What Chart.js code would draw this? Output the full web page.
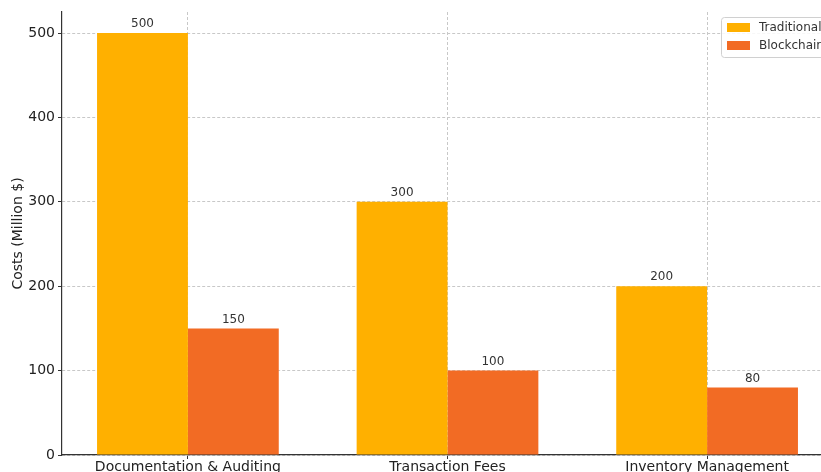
<!DOCTYPE html>
<html>
<head>
<meta charset="utf-8">
<script src="https://cdn.jsdelivr.net/npm/chart.js@4"></script>
<style>
    html, body { margin: 0; padding: 0; background: #fff; overflow: hidden; }
    body { width: 821px; height: 472px; }
    #wrap { width: 870px; height: 485px; position: relative; }
</style>
</head>
<body>
<div id="wrap"><canvas id="costChart" width="870" height="485"></canvas></div>
<script>
// Chart data
const categories = ['Documentation & Auditing', 'Transaction Fees', 'Inventory Management'];
const traditionalCosts = [500, 300, 200];
const blockchainCosts = [150, 100, 80];
const yTicks = [0, 100, 200, 300, 400, 500];

const FONT = "'DejaVu Sans', sans-serif";

// numeric x positions so the axis margins match the original plot
const toPoints = values => values.map((v, i) => ({ x: i, y: v }));

// values above each bar
const valueLabels = {
    id: 'valueLabels',
    afterDatasetsDraw(chart) {
        const ctx = chart.ctx;
        ctx.save();
        ctx.font = '12px ' + FONT;
        ctx.fillStyle = '#333';
        ctx.textAlign = 'center';
        ctx.textBaseline = 'bottom';
        chart.data.datasets.forEach((ds, i) => {
            chart.getDatasetMeta(i).data.forEach((bar, j) => {
                ctx.fillText(ds.data[j].y, bar.x, bar.y - 3);
            });
        });
        ctx.restore();
    }
};

// legend box inside the plot, upper right
const innerLegend = {
    id: 'innerLegend',
    afterDraw(chart) {
        const ctx = chart.ctx;
        const x = 721, y = 17, w = 130, h = 40;
        ctx.save();
        ctx.fillStyle = 'rgba(255,255,255,0.85)';
        ctx.strokeStyle = '#d0d0d0';
        ctx.lineWidth = 1;
        ctx.beginPath();
        ctx.roundRect(x + 0.5, y + 0.5, w, h, 3);
        ctx.fill();
        ctx.stroke();
        ctx.font = '12px ' + FONT;
        ctx.textBaseline = 'middle';
        ctx.textAlign = 'left';
        chart.data.datasets.forEach((ds, i) => {
            const cy = y + 10 + i * 18;
            ctx.fillStyle = ds.backgroundColor;
            ctx.fillRect(x + 6, cy - 4, 23, 9);
            ctx.fillStyle = '#333';
            ctx.fillText(ds.label, x + 38, cy + 1);
        });
        ctx.restore();
    }
};

const ctx = document.getElementById('costChart').getContext('2d');
const chart = new Chart(ctx, {
    type: 'bar',
    data: {
        datasets: [
            {
                label: 'Traditional',
                data: toPoints(traditionalCosts),
                backgroundColor: '#FFB000',
                categoryPercentage: 0.7,
                barPercentage: 1.0
            },
            {
                label: 'Blockchain',
                data: toPoints(blockchainCosts),
                backgroundColor: '#F26B24',
                categoryPercentage: 0.7,
                barPercentage: 1.0
            }
        ]
    },
    options: {
        responsive: false,
        animation: false,
        layout: {
            padding: { top: 12, right: 37, left: 0, bottom: 0 }
        },
        plugins: {
            legend: { display: false },
            tooltip: { enabled: false }
        },
        scales: {
            x: {
                type: 'linear',
                min: -0.485,
                max: 2.485,
                offset: false,
                afterFit(scale) { scale.height = 30; },
                afterBuildTicks(scale) {
                    scale.ticks = categories.map((c, i) => ({ value: i }));
                },
                grid: {
                    offset: false,
                    color: '#c8c8c8',
                    tickColor: '#333',
                    tickLength: 4
                },
                border: { display: true, color: '#333', width: 1.2, dash: [3, 2] },
                ticks: {
                    color: '#222',
                    padding: 0,
                    maxRotation: 0,
                    autoSkip: false,
                    callback: value => categories[value],
                    font: { family: FONT, size: 14 }
                }
            },
            y: {
                min: 0,
                max: 525,
                afterFit(scale) { scale.width = 62; },
                afterBuildTicks(scale) {
                    scale.ticks = yTicks.map(v => ({ value: v }));
                },
                grid: {
                    color: '#c8c8c8',
                    tickColor: '#333',
                    tickLength: 4
                },
                border: { display: true, color: '#333', width: 1.2, dash: [3, 2] },
                ticks: {
                    color: '#222',
                    padding: 3,
                    font: { family: FONT, size: 14 }
                },
                title: {
                    display: true,
                    text: 'Costs (Million $)',
                    color: '#222',
                    padding: { top: 10, bottom: 0 },
                    font: { family: FONT, size: 14 }
                }
            }
        }
    },
    plugins: [valueLabels, innerLegend]
});
</script>
</body>
</html>
